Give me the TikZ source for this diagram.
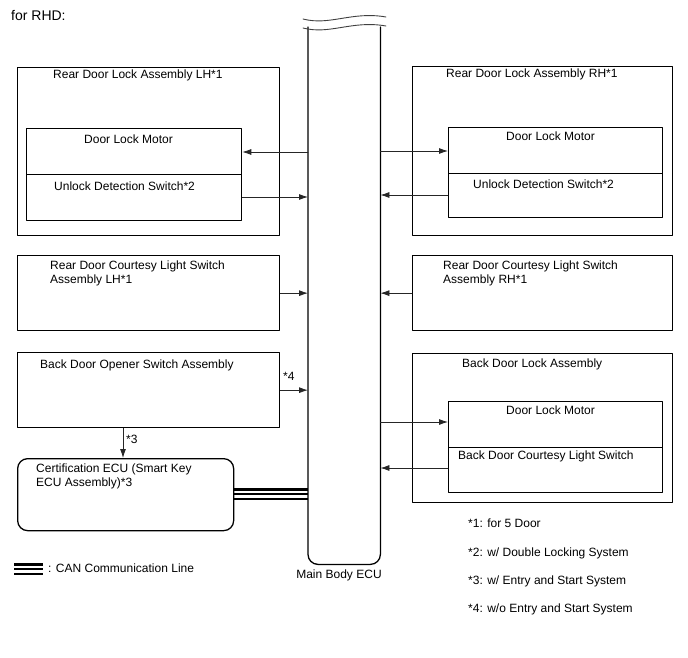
\documentclass[tikz,border=0pt]{standalone}
\usepackage{fontspec}
\setmainfont{Liberation Sans}
\usetikzlibrary{arrows.meta}
\tikzset{box/.style={draw,line width=1.3pt,anchor=north west,inner sep=0pt},
 sig/.style={draw=black!85,line width=.8pt,-{Latex[length=9pt,width=6pt]}},
 txt/.style={anchor=base west,inner sep=0pt,font=\fontsize{12}{14}\selectfont},
 every picture/.style={line join=round,line cap=round}}

\begin{document}
\begin{tikzpicture}[x=1pt,y=-1pt]
\useasboundingbox (0,0) rectangle (688,658);
\node[txt,font=\fontsize{14}{16}\selectfont] (rhd) at (11,21) {for RHD:};
% main body ecu
\node[anchor=north west,inner sep=0pt,minimum width=72pt,minimum height=537pt] (ecu) at (308,27) {};
\draw[line width=1.3pt,rounded corners=10pt] (ecu.north west) -- (ecu.south west) -- (ecu.south east) -- (ecu.north east);
\draw[line width=.9pt,black!75] (303,19) .. controls (330,26) and (352,11) .. (386,17);
\draw[line width=.9pt,black!75] (303,28) .. controls (330,35) and (352,20) .. (386,26);
\node[anchor=base,inner sep=0pt,font=\fontsize{12}{14}\selectfont] (ecutxt) at (339,578) {Main Body ECU};
% left side
\node[box,minimum width=262pt,minimum height=168pt] (lla) at (17,67) {};
\node[box,minimum width=215pt,minimum height=46pt] (lmotor) at (26,128) {};
\node[box,minimum width=215pt,minimum height=46pt] (lsw) at (26,174) {};
\node[box,minimum width=262pt,minimum height=75pt] (llight) at (17,255) {};
\node[box,minimum width=262pt,minimum height=75pt] (lopener) at (17,352) {};
\node[box,rounded corners=10pt,minimum width=216pt,minimum height=72pt] (cert) at (17,458) {};
\node[txt] (llatxt) at (53,79) {Rear Door Lock Assembly LH*1};
\node[txt] (lmotortxt) at (84,144) {Door Lock Motor};
\node[txt] (lswtxt) at (54,190) {Unlock Detection Switch*2};
\node[txt] (llighttxt) at (50,269) {Rear Door Courtesy Light Switch};
\node[txt] (llighttxtb) at (50,283) {Assembly LH*1};
\node[txt] (lopenertxt) at (40,368) {Back Door Opener Switch Assembly};
\node[txt] (certtxt) at (36,472) {Certification ECU (Smart Key};
\node[txt] (certtxtb) at (36,486) {ECU Assembly)*3};
\node[txt] (n4) at (283,380) {*4};
\node[txt] (n3) at (126,443) {*3};
% right side
\node[box,minimum width=260pt,minimum height=169pt] (rla) at (412,66) {};
\node[box,minimum width=214pt,minimum height=46pt] (rmotor) at (448,127) {};
\node[box,minimum width=214pt,minimum height=44pt] (rsw) at (448,173) {};
\node[box,minimum width=260pt,minimum height=75pt] (rlight) at (412,255) {};
\node[box,minimum width=260pt,minimum height=149pt] (rback) at (412,353) {};
\node[box,minimum width=214pt,minimum height=46pt] (bmotor) at (448,401) {};
\node[box,minimum width=214pt,minimum height=45pt] (bsw) at (448,447) {};
\node[txt] (rlatxt) at (446,78) {Rear Door Lock Assembly RH*1};
\node[txt] (rmotortxt) at (506,141) {Door Lock Motor};
\node[txt] (rswtxt) at (473,188) {Unlock Detection Switch*2};
\node[txt] (rlighttxt) at (443,269) {Rear Door Courtesy Light Switch};
\node[txt] (rlighttxtb) at (443,283) {Assembly RH*1};
\node[txt] (rbacktxt) at (462,367) {Back Door Lock Assembly};
\node[txt] (bmotortxt) at (506,414) {Door Lock Motor};
\node[txt] (bswtxt) at (458,459) {Back Door Courtesy Light Switch};
% signals
\draw[sig] (ecu.west |- 0,152) -- (lmotor.east |- 0,152);
\draw[sig] (lsw.east |- 0,197) -- (ecu.west |- 0,197);
\draw[sig] (llight.east) -- (ecu.west |- llight.east);
\draw[sig] (lopener.east) -- (ecu.west |- lopener.east);
\draw[sig] ([xshift=106pt]lopener.south west) -- ([xshift=106pt]cert.north west);
\draw[sig] (ecu.east |- 0,151) -- (rmotor.west |- 0,151);
\draw[sig] (rsw.west |- 0,195) -- (ecu.east |- 0,195);
\draw[sig] (rlight.west) -- (ecu.east |- rlight.west);
\draw[sig] (ecu.east |- 0,422) -- (bmotor.west |- 0,422);
\draw[sig] (bsw.west |- 0,468) -- (ecu.east |- 0,468);
% can line
\foreach \yy/\w in {489.5/2.6,494.3/1.8,499/2.6}
  \draw[line width=\w pt,line cap=butt] (cert.east |- 0,\yy) -- (ecu.west |- 0,\yy);
\foreach \yy/\w in {564.5/2.6,569.3/1.8,574/2.6}
  \draw[line width=\w pt,line cap=butt] (14,\yy) -- (43,\yy);
\node[txt] (cantxt) at (48,572) {: CAN Communication Line};
% notes
\node[txt] (note1) at (468,527) {*1: for 5 Door};
\node[txt] (note2) at (468,556) {*2: w/ Double Locking System};
\node[txt] (note3) at (468,584) {*3: w/ Entry and Start System};
\node[txt] (note4) at (468,612) {*4: w/o Entry and Start System};
\end{tikzpicture}
\end{document}
